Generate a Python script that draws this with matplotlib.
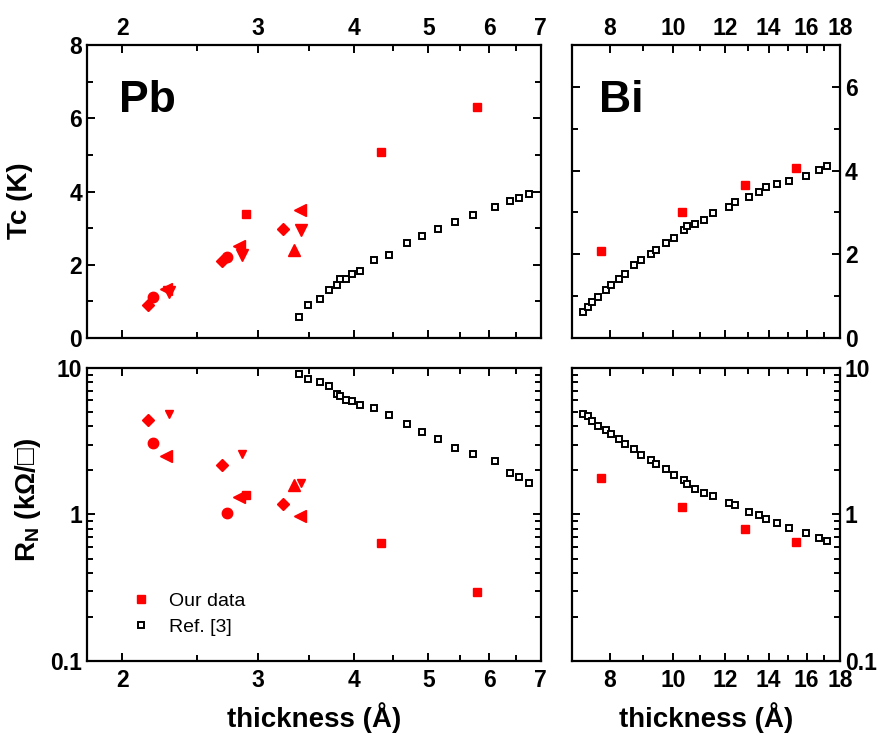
import matplotlib
matplotlib.use('Agg')
import matplotlib.pyplot as plt
from matplotlib.ticker import FixedLocator, FixedFormatter, NullFormatter
import numpy as np

plt.rcParams['font.family'] = ['Liberation Sans', 'DejaVu Sans']
plt.rcParams['font.weight'] = 'bold'
plt.rcParams['mathtext.fontset'] = 'custom'
plt.rcParams['mathtext.bf'] = 'Liberation Sans:bold'
plt.rcParams['mathtext.rm'] = 'Liberation Sans:bold'

#
# Pb data (our data, red, one marker shape per sample series)
#
pb_sq_t = [2.90, 4.34, 5.78]
pb_sq_tc = [3.39, 5.08, 6.30]
pb_sq_rn = [1.35, 0.64, 0.297]

pb_dia_t = [2.16, 2.70, 3.24]
pb_dia_tc = [0.89, 2.09, 2.99]
pb_dia_rn = [4.42, 2.19, 1.17]

pb_cir_t = [2.19, 2.74]
pb_cir_tc = [1.12, 2.22]
pb_cir_rn = [3.08, 1.03]

pb_down_t = [2.30, 2.86, 3.42]
pb_down_tc = [1.26, 2.27, 2.96]
pb_down_rn = [4.88, 2.57, 1.64]

pb_left_t = [2.28, 2.84, 3.41]
pb_left_tc = [1.33, 2.51, 3.49]
pb_left_rn = [2.51, 1.32, 0.97]

pb_up_t = [3.34]
pb_up_tc = [2.41]
pb_up_rn = [1.58]

# Pb Ref. [3]
pb_ref_t = [3.39, 3.49, 3.61, 3.71, 3.80, 3.84, 3.91, 3.98, 4.08, 4.25,
            4.44, 4.69, 4.91, 5.14, 5.42, 5.71, 6.10, 6.39, 6.55, 6.75]
pb_ref_tc = [0.57, 0.89, 1.06, 1.32, 1.45, 1.61, 1.61, 1.75, 1.84, 2.12,
             2.27, 2.60, 2.79, 2.99, 3.18, 3.35, 3.58, 3.75, 3.82, 3.93]
pb_ref_rn = [9.15, 8.46, 8.07, 7.50, 6.65, 6.48, 6.08, 5.93, 5.59, 5.34,
             4.81, 4.17, 3.66, 3.25, 2.86, 2.57, 2.32, 1.91, 1.81, 1.64]

#
# Bi data
#
bi_sq_t = [7.75, 10.33, 12.88, 15.44]
bi_sq_tc = [2.07, 3.00, 3.66, 4.07]
bi_sq_rn = [1.76, 1.13, 0.80, 0.645]

bi_ref_t = [7.28, 7.41, 7.50, 7.66, 7.89, 8.02, 8.26, 8.45, 8.72, 8.94,
            9.25, 9.40, 9.74, 10.03, 10.38, 10.50, 10.81, 11.15, 11.50, 12.17,
            12.45, 13.05, 13.52, 13.89, 14.44, 15.03, 15.94, 16.69, 17.21]
bi_ref_tc = [0.62, 0.74, 0.86, 0.98, 1.14, 1.26, 1.40, 1.52, 1.74, 1.86,
             2.00, 2.11, 2.26, 2.39, 2.58, 2.68, 2.73, 2.82, 2.98, 3.13,
             3.26, 3.36, 3.49, 3.60, 3.67, 3.76, 3.88, 4.02, 4.10]
bi_ref_rn = [4.88, 4.68, 4.37, 4.04, 3.76, 3.55, 3.26, 3.03, 2.80, 2.56,
             2.37, 2.20, 2.03, 1.85, 1.73, 1.62, 1.50, 1.41, 1.33, 1.20,
             1.16, 1.04, 0.986, 0.925, 0.868, 0.807, 0.75, 0.693, 0.661]

pb_xticks = [2, 3, 4, 5, 6, 7]
pb_xminor = [2.5, 3.5, 4.5, 5.5, 6.5]
bi_xticks = [8, 10, 12, 14, 16, 18]
bi_xminor = [9, 11, 13, 15, 17]
rn_ticks = [0.1, 1, 10]
rn_labels = ['0.1', '1', '10']

RED = '#ff0000'
TICK_FS = 16.5
LABEL_FS = 20

fig = plt.figure(figsize=(8.83, 7.4), dpi=100)
ax_pb_tc = fig.add_axes([0.0985, 0.5432, 0.514, 0.396])
ax_bi_tc = fig.add_axes([0.6478, 0.5432, 0.3035, 0.396])
ax_pb_rn = fig.add_axes([0.0985, 0.1068, 0.514, 0.396])
ax_bi_rn = fig.add_axes([0.6478, 0.1068, 0.3035, 0.396])


def style(ax):
    for s in ax.spines.values():
        s.set_linewidth(1.6)
    ax.tick_params(which='both', direction='in', top=True, bottom=True,
                   left=True, right=True, width=1.4, labelsize=TICK_FS)
    ax.tick_params(which='major', length=6)
    ax.tick_params(which='minor', length=4)


def ref_plot(ax, x, y, label=None):
    ax.plot(x, y, 's', markersize=4.8, markerfacecolor='white',
            markeredgecolor='black', markeredgewidth=1.4, linestyle='none',
            label=label)


def pb_red(ax, ydata, down_ms):
    ax.plot(pb_dia_t, ydata[0], 'D', color=RED, markersize=6.2, linestyle='none')
    ax.plot(pb_cir_t, ydata[1], 'o', color=RED, markersize=7.5, linestyle='none')
    ax.plot(pb_down_t, ydata[2], 'v', color=RED, markersize=down_ms, linestyle='none')
    ax.plot(pb_left_t, ydata[3], '<', color=RED, markersize=8, linestyle='none')
    ax.plot(pb_up_t, ydata[4], '^', color=RED, markersize=8, linestyle='none')
    ax.plot(pb_sq_t, ydata[5], 's', color=RED, markersize=6.2, linestyle='none',
            label='Our data')


# Pb Tc
ax = ax_pb_tc
ref_plot(ax, pb_ref_t, pb_ref_tc)
pb_red(ax, [pb_dia_tc, pb_cir_tc, pb_down_tc, pb_left_tc, pb_up_tc, pb_sq_tc], 8)
ax.set_xscale('log')
ax.set_xlim(1.8, 7)
ax.set_ylim(0, 8)
ax.set_yticks([0, 2, 4, 6, 8])
ax.set_yticks([1, 3, 5, 7], minor=True)
ax.set_ylabel('Tc (K)', fontsize=LABEL_FS, fontweight='bold')
ax.yaxis.set_label_coords(-0.119, 0.47)
ax.text(0.07, 0.77, 'Pb', transform=ax.transAxes, fontsize=32, fontweight='bold')

# Bi Tc
ax = ax_bi_tc
ref_plot(ax, bi_ref_t, bi_ref_tc)
ax.plot(bi_sq_t, bi_sq_tc, 's', color=RED, markersize=6.2, linestyle='none')
ax.set_xscale('log')
ax.set_xlim(7, 18)
ax.set_ylim(0, 7)
ax.set_yticks([0, 2, 4, 6])
ax.set_yticks([1, 3, 5, 7], minor=True)
ax.text(0.1, 0.77, 'Bi', transform=ax.transAxes, fontsize=32, fontweight='bold')

# Pb RN
ax = ax_pb_rn
ref_plot(ax, pb_ref_t, pb_ref_rn, label='Ref. [3]')
pb_red(ax, [pb_dia_rn, pb_cir_rn, pb_down_rn, pb_left_rn, pb_up_rn, pb_sq_rn], 6)
ax.set_xscale('log')
ax.set_yscale('log')
ax.set_xlim(1.8, 7)
ax.set_ylim(0.1, 10)
ax.set_ylabel(r'R$\mathbf{_N}$ (k$\mathbf{\Omega}$/□)', fontsize=LABEL_FS,
              fontweight='bold')
ax.yaxis.set_label_coords(-0.097, 0.55)
ax.set_xlabel('thickness (Å)', fontsize=LABEL_FS, fontweight='bold', labelpad=7)
h, l = ax.get_legend_handles_labels()
ax.legend([h[1], h[0]], [l[1], l[0]], loc='lower left', frameon=False,
          bbox_to_anchor=(0.06, 0.025), handletextpad=0.9,
          handlelength=1.0, labelspacing=0.45,
          prop={'size': 14, 'weight': 'normal'})

# Bi RN
ax = ax_bi_rn
ref_plot(ax, bi_ref_t, bi_ref_rn)
ax.plot(bi_sq_t, bi_sq_rn, 's', color=RED, markersize=6.2, linestyle='none')
ax.set_xscale('log')
ax.set_yscale('log')
ax.set_xlim(7, 18)
ax.set_ylim(0.1, 10)
ax.set_xlabel('thickness (Å)', fontsize=LABEL_FS, fontweight='bold', labelpad=7)

# ticks
for ax in (ax_pb_tc, ax_pb_rn):
    ax.xaxis.set_major_locator(FixedLocator(pb_xticks))
    ax.xaxis.set_major_formatter(FixedFormatter([str(v) for v in pb_xticks]))
    ax.xaxis.set_minor_locator(FixedLocator(pb_xminor))
    ax.xaxis.set_minor_formatter(NullFormatter())
for ax in (ax_bi_tc, ax_bi_rn):
    ax.xaxis.set_major_locator(FixedLocator(bi_xticks))
    ax.xaxis.set_major_formatter(FixedFormatter([str(v) for v in bi_xticks]))
    ax.xaxis.set_minor_locator(FixedLocator(bi_xminor))
    ax.xaxis.set_minor_formatter(NullFormatter())
for ax in (ax_pb_rn, ax_bi_rn):
    ax.yaxis.set_major_locator(FixedLocator(rn_ticks))
    ax.yaxis.set_major_formatter(FixedFormatter(rn_labels))
    ax.yaxis.set_minor_formatter(NullFormatter())

for ax in (ax_pb_tc, ax_bi_tc, ax_pb_rn, ax_bi_rn):
    style(ax)

# labels on top for upper row, on right for right column
for ax in (ax_pb_tc, ax_bi_tc):
    ax.tick_params(labeltop=True, labelbottom=False)
for ax in (ax_pb_rn, ax_bi_rn):
    ax.tick_params(axis='x', pad=6)
for ax in (ax_bi_tc, ax_bi_rn):
    ax.tick_params(labelright=True, labelleft=False)

fig.savefig('out.png', dpi=100)
